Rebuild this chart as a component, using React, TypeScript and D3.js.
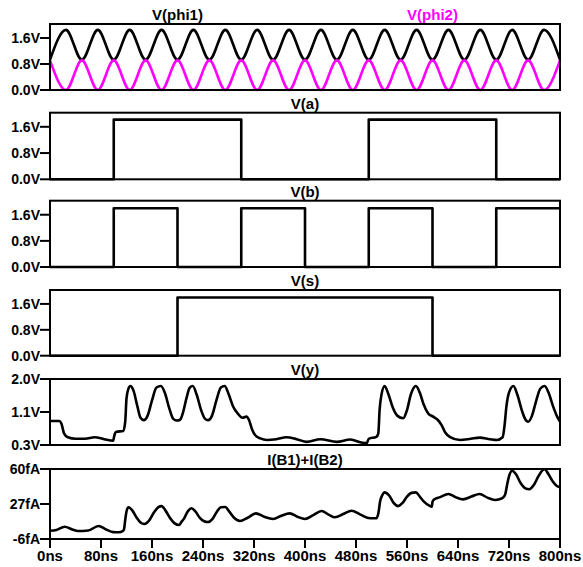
import React from "react";
import * as d3 from "d3";

// clock samples (peaks / troughs every 25ns)
const clockTimes = [0, 25, 50, 75, 100, 125, 150, 175, 200, 225, 250, 275, 300, 325, 350, 375, 400, 425, 450, 475, 500, 525, 550, 575, 600, 625, 650, 675, 700, 725, 750, 775, 800];
const phi1 = [0.93, 1.85, 0.93, 1.85, 0.93, 1.85, 0.93, 1.85, 0.93, 1.85, 0.93, 1.85, 0.93, 1.85, 0.93, 1.85, 0.93, 1.85, 0.93, 1.85, 0.93, 1.85, 0.93, 1.85, 0.93, 1.85, 0.93, 1.85, 0.93, 1.85, 0.93, 1.85, 0.93];
const phi2 = [0.91, 0, 0.91, 0, 0.91, 0, 0.91, 0, 0.91, 0, 0.91, 0, 0.91, 0, 0.91, 0, 0.91, 0, 0.91, 0, 0.91, 0, 0.91, 0, 0.91, 0, 0.91, 0, 0.91, 0, 0.91, 0, 0.91];

// digital inputs (step after)
const aTimes = [0, 100, 300, 500, 700, 800];
const aValues = [0, 1.82, 0, 1.82, 0, 0];
const bTimes = [0, 100, 200, 300, 400, 500, 600, 700, 800];
const bValues = [0, 1.8, 0, 1.8, 0, 1.8, 0, 1.8, 1.8];
const sTimes = [0, 200, 600, 800];
const sValues = [0, 1.8, 0, 0];

// output V(y)
const yTimes = [0, 15, 18, 22, 28, 40, 55, 70, 85, 99, 101, 104, 115, 118, 120, 123, 126, 131, 137, 142, 147, 153, 160, 167, 174, 180, 187, 193, 199, 204, 208, 214, 219, 224, 230, 237, 243, 248, 254, 261, 268, 274, 280, 287, 295, 302, 308, 312, 317, 322, 330, 340, 355, 371, 387, 403, 424, 450, 471, 490, 497, 500, 512, 515, 517, 520, 525, 531, 538, 545, 554, 560, 566, 574, 580, 586, 593, 601, 608, 614, 620, 627, 643, 660, 674, 690, 701, 710, 713, 716, 720, 727, 733, 740, 745, 750, 756, 762, 769, 776, 782, 789, 795, 800];
const yValues = [0.92, 0.92, 0.85, 0.6, 0.5, 0.46, 0.46, 0.5, 0.45, 0.41, 0.55, 0.64, 0.66, 0.9, 1.5, 1.75, 1.82, 1.7, 1.3, 1.0, 0.94, 1.05, 1.45, 1.78, 1.82, 1.65, 1.25, 0.98, 0.93, 0.95, 1.1, 1.5, 1.77, 1.82, 1.6, 1.2, 0.98, 0.94, 1.05, 1.45, 1.78, 1.82, 1.62, 1.3, 1.1, 1.0, 1.03, 0.95, 0.7, 0.55, 0.47, 0.43, 0.45, 0.5, 0.45, 0.38, 0.45, 0.38, 0.44, 0.36, 0.35, 0.46, 0.51, 0.6, 1.2, 1.6, 1.82, 1.6, 1.25, 1.05, 0.99, 1.2, 1.6, 1.82, 1.65, 1.35, 1.12, 1.03, 0.95, 0.82, 0.62, 0.51, 0.43, 0.46, 0.49, 0.45, 0.43, 0.5, 0.8, 1.3, 1.65, 1.82, 1.6, 1.2, 0.98, 0.9, 1.05, 1.4, 1.75, 1.82, 1.65, 1.3, 1.05, 0.9];

// supply current I(B1)+I(B2) in fA
const iTimes = [0, 10, 23, 35, 44, 60, 76, 88, 99, 108, 114, 116, 118, 120, 123, 129, 136, 142, 148, 155, 163, 170, 175, 181, 188, 195, 203, 206, 210, 216, 222, 228, 235, 241, 248, 255, 262, 268, 275, 281, 288, 298, 310, 323, 336, 350, 363, 376, 388, 400, 413, 426, 437, 447, 460, 473, 487, 502, 512, 515, 518, 521, 525, 532, 539, 546, 553, 560, 567, 574, 580, 587, 595, 599, 600, 602, 612, 625, 636, 648, 661, 674, 686, 698, 705, 711, 714, 717, 720, 725, 731, 738, 745, 752, 759, 766, 772, 776, 782, 789, 795, 800];
const iValues = [1.8, 2.5, 5.6, 3, 1.5, 2, 6.3, 3, 0.5, 0.3, 1.5, 3, 12, 20, 24, 21, 14, 9.5, 8.1, 11, 19, 24, 25, 21, 14, 9, 7.2, 10, 13, 20, 23, 20, 14, 11, 10, 13, 20, 24, 24.2, 20, 14.5, 11, 14, 18.2, 15, 12.9, 16, 18.2, 15, 12.9, 16.5, 20.4, 17, 14.5, 17.5, 20.7, 17, 13.5, 13.5, 18, 30, 35, 38, 35, 28, 25, 28, 34, 37.5, 38, 34, 29, 25.5, 24.5, 29, 31, 33.5, 36.4, 33.5, 31.4, 34, 36.4, 33, 30.8, 31.5, 33.3, 36, 45, 53, 58.4, 55, 47, 42, 40.9, 45, 53, 58.5, 59.7, 55, 48, 44, 42.7];

const voltTicks = [0, 0.8, 1.6];
const voltLabels = ["0.0V", "0.8V", "1.6V"];
const outTicks = [0.3, 1.15, 2.0];
const outLabels = ["0.3V", "1.1V", "2.0V"];
const curTicks = [-6, 27, 60];
const curLabels = ["-6fA", "27fA", "60fA"];
const timeTicks = [0, 80, 160, 240, 320, 400, 480, 560, 640, 720, 800];

const W = 583;
const H = 567;
const left = 50;
const right = 560;
const font = "'Liberation Sans', Arial, sans-serif";
const MAGENTA = "#ff00ff";

type Trace = { t: number[]; v: number[]; color: string; step?: boolean };
type Panel = {
  top: number;
  bottom: number;
  domain: [number, number];
  ticks: number[];
  labels: string[];
  titles: { text: string; color: string; at: number }[];
  traces: Trace[];
};

const panels: Panel[] = [
  {
    top: 24, bottom: 90, domain: [0, 2.03], ticks: voltTicks, labels: voltLabels,
    titles: [{ text: "V(phi1)", color: "#000", at: 0.25 }, { text: "V(phi2)", color: MAGENTA, at: 0.75 }],
    traces: [{ t: clockTimes, v: phi1, color: "#000" }, { t: clockTimes, v: phi2, color: MAGENTA }],
  },
  {
    top: 112.7, bottom: 179.3, domain: [0, 2.03], ticks: voltTicks, labels: voltLabels,
    titles: [{ text: "V(a)", color: "#000", at: 0.5 }],
    traces: [{ t: aTimes, v: aValues, color: "#000", step: true }],
  },
  {
    top: 200.7, bottom: 267, domain: [0, 2.03], ticks: voltTicks, labels: voltLabels,
    titles: [{ text: "V(b)", color: "#000", at: 0.5 }],
    traces: [{ t: bTimes, v: bValues, color: "#000", step: true }],
  },
  {
    top: 290, bottom: 355.7, domain: [0, 2.03], ticks: voltTicks, labels: voltLabels,
    titles: [{ text: "V(s)", color: "#000", at: 0.5 }],
    traces: [{ t: sTimes, v: sValues, color: "#000", step: true }],
  },
  {
    top: 379, bottom: 445, domain: [0.3, 2.0], ticks: outTicks, labels: outLabels,
    titles: [{ text: "V(y)", color: "#000", at: 0.5 }],
    traces: [{ t: yTimes, v: yValues, color: "#000" }],
  },
  {
    top: 469, bottom: 539, domain: [-6, 60], ticks: curTicks, labels: curLabels,
    titles: [{ text: "I(B1)+I(B2)", color: "#000", at: 0.5 }],
    traces: [{ t: iTimes, v: iValues, color: "#000" }],
  },
];

const x = d3.scaleLinear().domain([0, 800]).range([left, right]);

function PanelView({ p }: { p: Panel }) {
  const y = d3.scaleLinear().domain(p.domain).range([p.bottom, p.top]);
  return (
    <g>
      {p.titles.map((tt) => (
        <text key={tt.text} x={left + (right - left) * tt.at} y={p.top - 4} textAnchor="middle"
          fontFamily={font} fontWeight="bold" fontSize={15} fill={tt.color}>{tt.text}</text>
      ))}
      {p.traces.map((tr, i) => {
        const line = d3.line<number>()
          .x((_, k) => x(tr.t[k]))
          .y((d) => y(d))
          .curve(tr.step ? d3.curveStepAfter : d3.curveMonotoneX);
        return <path key={i} d={line(tr.v) || ""} fill="none" stroke={tr.color} strokeWidth={2.6} strokeLinejoin="round" />;
      })}
      <rect x={left} y={p.top} width={right - left} height={p.bottom - p.top} fill="none" stroke="#000" strokeWidth={2} />
      {p.ticks.map((v, i) => (
        <g key={v}>
          <line x1={40} x2={left} y1={y(v)} y2={y(v)} stroke="#000" strokeWidth={2} />
          <text x={40} y={y(v)} dy="0.36em" textAnchor="end" fontFamily={font} fontWeight="bold" fontSize={14}>{p.labels[i]}</text>
        </g>
      ))}
    </g>
  );
}

export default function App() {
  const last = panels[panels.length - 1];
  return (
    <svg width={W} height={H} style={{ position: "absolute", left: 0, top: 0, background: "#fff" }}>
      {panels.map((p, i) => <PanelView key={i} p={p} />)}
      {timeTicks.map((t) => (
        <g key={t}>
          <line x1={x(t)} x2={x(t)} y1={last.bottom} y2={last.bottom + 9} stroke="#000" strokeWidth={2} />
          <text x={x(t)} y={560.5} textAnchor="middle" fontFamily={font} fontWeight="bold" fontSize={15}>{`${t}ns`}</text>
        </g>
      ))}
    </svg>
  );
}
